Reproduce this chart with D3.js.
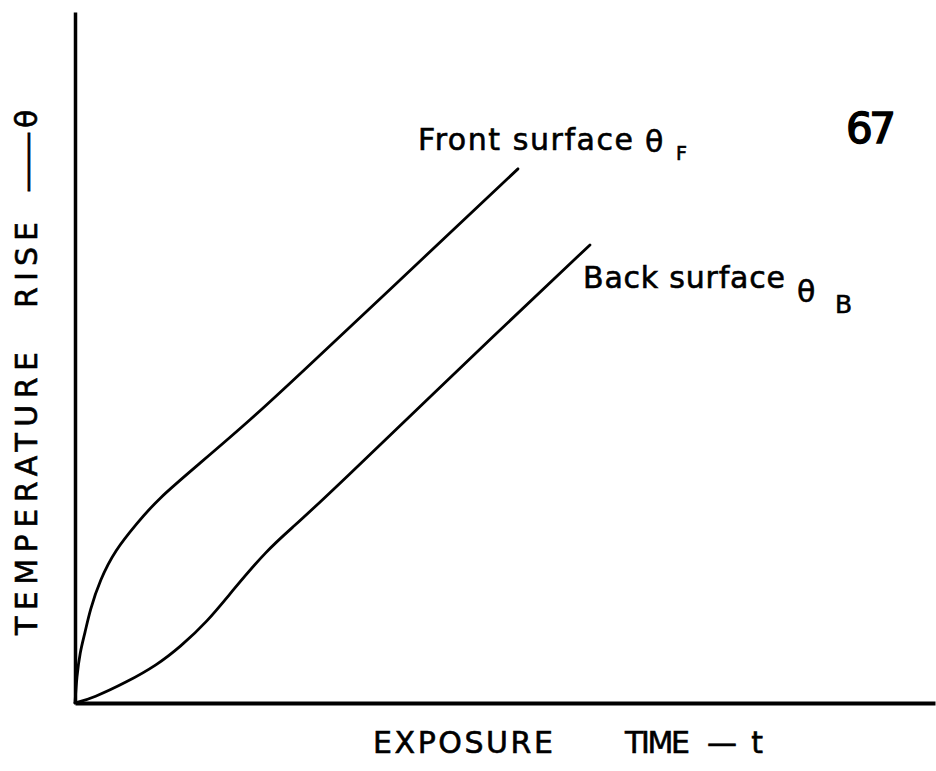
<!DOCTYPE html>
<html>
<head>
<meta charset="utf-8">
<script src="https://cdn.jsdelivr.net/npm/d3@7"></script>
<style>
  body { margin: 0; background: #fff; }
  svg { display: block; }
  text { font-family: "DejaVu Sans", sans-serif; fill: #000; stroke: #000; stroke-width: 0.6px; }
</style>
</head>
<body>
<div id="chart"></div>
<script>
// exposure time (arbitrary units) vs temperature rise (arbitrary units)
var front_t     = [0, 0.2, 0.58, 1.16, 1.74, 2.91, 4.65, 7.21, 9.53, 14.53, 20.35, 26.16, 35.47, 51.51];
var front_theta = [0, 3.76, 7.38, 10.13, 13.46, 17.8, 22.1, 26.0, 29.4, 34.7, 40.9, 47.6, 58.5, 77.3];

var back_t     = [0, 2.09, 6.05, 9.53, 12.21, 15.35, 18.37, 22.33, 25.35, 28.84, 50.58, 59.88];
var back_theta = [0, 0.72, 3.04, 5.5, 8.1, 11.72, 16.35, 22.14, 25.47, 29.4, 55.43, 66.28];

var x_label = ["EXPOSURE", "TIME", "\u2014t"];
var y_label = ["TEMPERATURE", "RISE", "\u2014", "\u03b8"];

var width = 936, height = 771;

var svg = d3.select("#chart")
  .append("svg")
  .attr("width", width)
  .attr("height", height);

var xScale = d3.scaleLinear().domain([0, 100]).range([75, 935]);
var yScale = d3.scaleLinear().domain([0, 100]).range([703, 12]);

// axes, no ticks - just the bare lines
var xAxis = d3.axisBottom(xScale).tickValues([]).tickSizeOuter(0);
var yAxis = d3.axisLeft(yScale).tickValues([]).tickSizeOuter(0);

svg.append("g")
  .attr("transform", "translate(0," + yScale(0) + ")")
  .call(xAxis)
  .select(".domain")
  .attr("stroke", "#000")
  .attr("stroke-width", 4);

svg.append("g")
  .attr("transform", "translate(" + xScale(0) + ",0)")
  .call(yAxis)
  .select(".domain")
  .attr("stroke", "#000")
  .attr("stroke-width", 3.5);

var line = d3.line()
  .x(function (d) { return xScale(d[0]) })
  .y(function (d) { return yScale(d[1]) })
  .curve(d3.curveBasis);

var front = front_t.map(function (t, i) { return [t, front_theta[i]] });
var back = back_t.map(function (t, i) { return [t, back_theta[i]] });

svg.append("path")
  .datum(front)
  .attr("d", line)
  .attr("fill", "none")
  .attr("stroke", "#000")
  .attr("stroke-width", 2.8)
  .attr("stroke-linecap", "round");

svg.append("path")
  .datum(back)
  .attr("d", line)
  .attr("fill", "none")
  .attr("stroke", "#000")
  .attr("stroke-width", 2.8)
  .attr("stroke-linecap", "round");

// curve labels
var fl = svg.append("text").attr("font-size", 30);
fl.append("tspan").attr("x", 418).attr("y", 150)
  .attr("textLength", 215).attr("lengthAdjust", "spacing")
  .text("Front surface");
fl.append("tspan").attr("x", 645).attr("y", 152).text("\u03b8");
fl.append("tspan").attr("x", 676).attr("y", 160).attr("font-size", 19).text("F");

var bl = svg.append("text").attr("font-size", 30);
bl.append("tspan").attr("x", 583).attr("y", 288)
  .attr("textLength", 202).attr("lengthAdjust", "spacing")
  .text("Back surface");
bl.append("tspan").attr("x", 797).attr("y", 302).text("\u03b8");
bl.append("tspan").attr("x", 835).attr("y", 313).attr("font-size", 25).text("B");

// handwritten figure number
svg.append("text")
  .attr("x", 846).attr("y", 143)
  .attr("font-size", 42)
  .attr("textLength", 50).attr("lengthAdjust", "spacing")
  .style("stroke-width", "1.5px")
  .text("67");

// x axis title
var xt = svg.append("text").attr("font-size", 30);
xt.append("tspan").attr("x", 373).attr("y", 753)
  .attr("textLength", 180).attr("lengthAdjust", "spacing").text(x_label[0]);
xt.append("tspan").attr("x", 625).attr("y", 753)
  .attr("textLength", 65).attr("lengthAdjust", "spacing").text(x_label[1]);
xt.append("tspan").attr("x", 707).attr("y", 753)
  .attr("textLength", 56).attr("lengthAdjust", "spacing").text(x_label[2]);

// y axis title (rotated, reads bottom to top)
var yt = svg.append("text")
  .attr("font-size", 30)
  .attr("transform", "translate(37,0) rotate(-90)");
yt.append("tspan").attr("x", -635).attr("y", 0)
  .attr("textLength", 283).attr("lengthAdjust", "spacing").text(y_label[0]);
yt.append("tspan").attr("x", -308).attr("y", 0)
  .attr("textLength", 86).attr("lengthAdjust", "spacing").text(y_label[1]);
yt.append("tspan").attr("x", -194).attr("y", 0)
  .attr("textLength", 64).attr("lengthAdjust", "spacingAndGlyphs").text(y_label[2]);
yt.append("tspan").attr("x", -128).attr("y", 0).text(y_label[3]);
</script>
</body>
</html>
